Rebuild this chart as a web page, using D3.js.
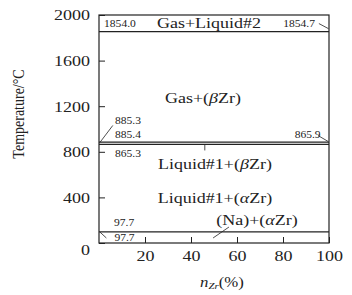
<!DOCTYPE html>
<html>
<head>
<meta charset="utf-8">
<script src="https://cdn.jsdelivr.net/npm/d3@7"></script>
<style>
  body { margin: 0; background: #fff; }
  svg { display: block; font-family: "Liberation Serif", "Times New Roman", serif; }
</style>
</head>
<body>
<div id="chart"></div>
<script>
// axis ticks
const xTicks = [20, 40, 60, 80, 100];
const yTicks = [0, 400, 800, 1200, 1600, 2000];

// invariant reaction temperatures (horizontal lines), in degrees C
const isotherms = [1854.0, 885.4, 865.3, 97.7];

// phase region names: x in mol% Zr, t in degrees C
const regionText = ['Gas+Liquid#2', 'Gas+(βZr)', 'Liquid#1+(βZr)', 'Liquid#1+(αZr)', '(Na)+(αZr)'];
const regionX = [47.8, 45.2, 50.4, 50.4, 68.7];
const regionT = [1935, 1275, 699, 393, 201];

// temperature annotations
const tempText = ['1854.0', '1854.7', '885.3', '885.4', '865.9', '865.3', '97.7', '97.7'];
const tempX = [9.1, 87.0, 12.6, 12.6, 90.7, 12.6, 10.9, 11.1];
const tempT = [1930, 1930, 1074, 952, 952, 786, 183, 52];

// leader lines [x1, t1, x2, t2]
const leaders = [
  [95.6, 1925, 99.8, 1880],
  [0.4, 882, 6.0, 1031],
  [95.2, 943, 99.6, 891],
  [0.4, 96, 3.2, 44],
  [49.6, 44, 56.5, 140],
  [46.0, 865.3, 46.0, 812]
];

const W = 352, H = 295;
const sx = 1.2; // the scanned figure is stretched horizontally

const x = d3.scaleLinear().domain([0, 100]).range([99, 329]);
const y = d3.scaleLinear().domain([0, 2000]).range([243, 15]);

const svg = d3.select('#chart').append('svg')
  .attr('width', W)
  .attr('height', H);

const ink = '#222';

// text helper that keeps the horizontal stretch of the original
function label(px, py, txt, size, anchor) {
  const t = svg.append('text')
    .attr('transform', `translate(${px},${py}) scale(${sx},1)`)
    .attr('text-anchor', anchor || 'middle')
    .attr('dy', '0.35em')
    .style('font-size', size + 'px')
    .attr('fill', ink);
  // greek letters in italic
  txt.split(/([αβ])/).forEach(part => {
    if (!part) return;
    const s = t.append('tspan').text(part);
    if (part === 'α' || part === 'β') s.style('font-style', 'italic');
  });
  return t;
}

// y axis (ticks pointing inward)
const yAxis = svg.append('g')
  .attr('transform', `translate(${x(0)},0)`)
  .call(d3.axisLeft(y).tickValues(yTicks).tickFormat(d3.format('d'))
    .tickSizeInner(-6).tickSizeOuter(0).tickPadding(0));
yAxis.select('.domain').remove();
yAxis.selectAll('line').attr('stroke', ink);
yAxis.selectAll('text')
  .attr('dy', d => d === 0 ? '0.75em' : '0.32em')
  .attr('transform', `scale(${sx},1)`)
  .attr('x', -9 / sx)
  .style('font-size', '15px')
  .attr('fill', ink)
  .style('font-family', '"Liberation Serif", serif');

// x axis (ticks pointing inward)
const xAxis = svg.append('g')
  .attr('transform', `translate(0,${y(0)})`)
  .call(d3.axisBottom(x).tickValues(xTicks).tickFormat(d3.format('d'))
    .tickSizeInner(-6).tickSizeOuter(0).tickPadding(0));
xAxis.select('.domain').remove();
xAxis.selectAll('line').attr('stroke', ink);
xAxis.selectAll('text')
  .attr('y', 7)
  .attr('x', 0)
  .attr('transform', `scale(${sx},1)`)
  .style('font-size', '15px')
  .attr('fill', ink)
  .style('font-family', '"Liberation Serif", serif');

// frame
svg.append('rect')
  .attr('x', x(0))
  .attr('y', y(2000))
  .attr('width', x(100) - x(0))
  .attr('height', y(0) - y(2000))
  .attr('fill', 'none')
  .attr('stroke', ink)
  .attr('stroke-width', 1.2);

// isotherms
svg.selectAll('.iso')
  .data(isotherms)
  .enter().append('line')
  .attr('class', 'iso')
  .attr('x1', x(0))
  .attr('x2', x(100))
  .attr('y1', d => y(d))
  .attr('y2', d => y(d))
  .attr('stroke', ink)
  .attr('stroke-width', 1.2);

// leader lines
svg.selectAll('.leader')
  .data(leaders)
  .enter().append('line')
  .attr('class', 'leader')
  .attr('x1', d => x(d[0]))
  .attr('y1', d => y(d[1]))
  .attr('x2', d => x(d[2]))
  .attr('y2', d => y(d[3]))
  .attr('stroke', ink)
  .attr('stroke-width', 0.8);

// region names
regionText.forEach((txt, i) => label(x(regionX[i]), y(regionT[i]), txt, 15));

// temperature annotations
tempText.forEach((txt, i) => {
  svg.append('text')
    .attr('transform', `translate(${x(tempX[i])},${y(tempT[i])}) scale(1.1,1)`)
    .attr('text-anchor', 'middle')
    .attr('dy', '0.35em')
    .style('font-size', '10.5px')
    .attr('fill', ink)
    .text(txt);
});

// axis titles
svg.append('text')
  .attr('transform', `translate(24,114) scale(${sx},1) rotate(-90)`)
  .attr('text-anchor', 'middle')
  .style('font-size', '14px')
  .attr('fill', ink)
  .text('Temperature/°C');

const xt = svg.append('text')
  .attr('transform', `translate(222,287) scale(${sx},1)`)
  .attr('text-anchor', 'middle')
  .style('font-size', '14px')
  .attr('fill', ink);
xt.append('tspan').style('font-style', 'italic').text('n');
xt.append('tspan').style('font-size', '9px').style('font-style', 'italic').attr('dy', 2).text('Zr');
xt.append('tspan').attr('dy', -2).text('(%)');
</script>
</body>
</html>
